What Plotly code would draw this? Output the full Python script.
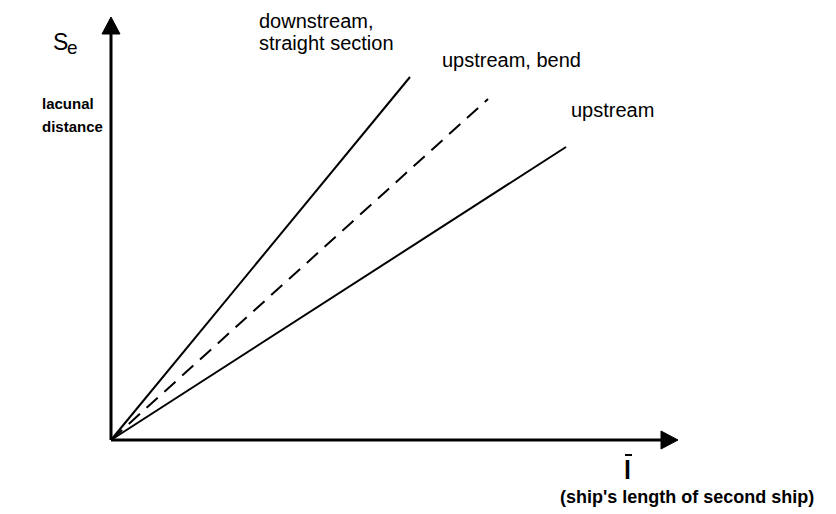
import plotly.graph_objects as go

# Data (arbitrary units; origin at 0,0)
series_names = ["downstream, straight section", "upstream, bend", "upstream"]
x_start = [0, 0, 0]
y_start = [0, 0, 0]
x_end = [299, 377, 455]
y_end = [363, 341, 293]
dash_styles = ["solid", "15px,9px", "solid"]

FONT = "Arial, 'Liberation Sans', sans-serif"

fig = go.Figure()
for name, x0, y0, x1, y1, d in zip(series_names, x_start, y_start, x_end, y_end, dash_styles):
    fig.add_trace(go.Scatter(x=[x0, x1], y=[y0, y1], mode="lines", name=name,
                             line=dict(color="black", width=2, dash=d),
                             showlegend=False, hoverinfo="skip", cliponaxis=False))

# axes with arrow heads, plus the bar over the "l"
shapes = [
    dict(type="line", xref="x", yref="y", x0=0, y0=0, x1=0, y1=408,
         line=dict(color="black", width=3)),
    dict(type="line", xref="x", yref="y", x0=0, y0=0, x1=552, y1=0,
         line=dict(color="black", width=3)),
    dict(type="path", xref="x", yref="y", path="M -9,406 L 9,406 L 0,423 Z",
         fillcolor="black", line=dict(color="black", width=1)),
    dict(type="path", xref="x", yref="y", path="M 550,9 L 550,-9 L 567,0 Z",
         fillcolor="black", line=dict(color="black", width=1)),
    dict(type="line", xref="x", yref="y", x0=514, y0=-15, x1=521, y1=-15,
         line=dict(color="black", width=2)),
]

def ann(text, x, y, size, bold=False, xanchor="left"):
    t = f"<b>{text}</b>" if bold else text
    return dict(text=t, x=x, y=y, xref="x", yref="y", showarrow=False,
                xanchor=xanchor, yanchor="middle",
                font=dict(family=FONT, size=size, color="black"))

annotations = [
    ann("downstream,", 146, 419, 20),
    ann("straight section", 146, 397, 20),
    ann("upstream, bend", 329, 380, 20),
    ann("upstream", 458, 330, 20),
    ann("S", -60, 398, 23),
    ann("e", -46, 393, 19),
    ann("lacunal", -71, 337, 15, bold=True),
    ann("distance", -71, 314, 15, bold=True),
    ann("l", 516, -30, 25, bold=True, xanchor="center"),
    ann("(ship's length of second ship)", 447, -57, 18, bold=True),
]

# page body has an 8px margin; shift the ranges to compensate
OFF = 8
fig.update_layout(
    width=836, height=514,
    margin=dict(l=0, r=0, t=0, b=0, autoexpand=False),
    paper_bgcolor="white", plot_bgcolor="white",
    xaxis=dict(range=[-111 + OFF, 725 + OFF], visible=False, fixedrange=True),
    yaxis=dict(range=[-74 - OFF, 440 - OFF], visible=False, fixedrange=True),
    shapes=shapes, annotations=annotations,
)

fig.write_html("out.html")
